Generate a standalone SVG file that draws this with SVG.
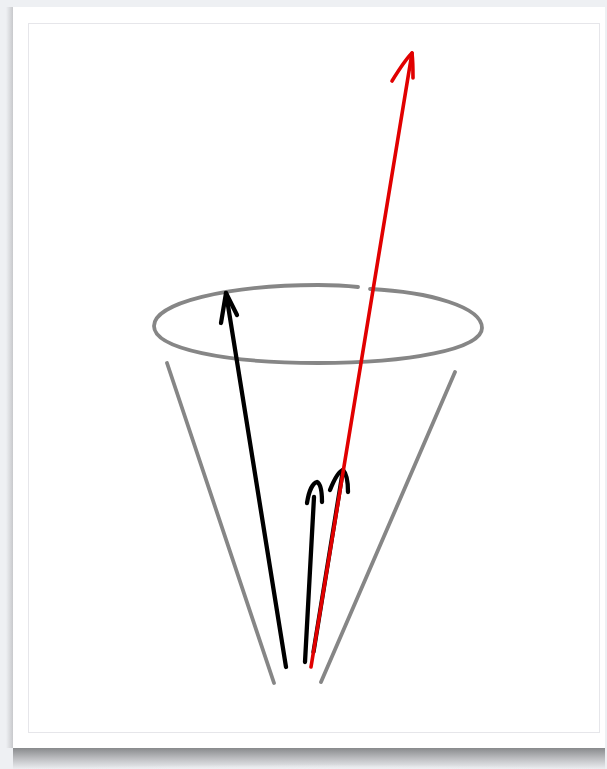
<svg xmlns="http://www.w3.org/2000/svg" width="607" height="769" viewBox="0 0 607 769">
<defs>
<linearGradient id="shadow" x1="0" y1="0" x2="0" y2="1">
<stop offset="0" stop-color="#888a8c"/>
<stop offset="0.5" stop-color="#bdbec1"/>
<stop offset="1" stop-color="#eceef1"/>
</linearGradient>
<linearGradient id="lshadow" x1="1" y1="0" x2="0" y2="0">
<stop offset="0" stop-color="#c8c9cc"/>
<stop offset="1" stop-color="#eef0f3"/>
</linearGradient>
<radialGradient id="curl" cx="0.5" cy="1.5" r="0.72">
<stop offset="0.65" stop-color="#eef0f3" stop-opacity="1"/>
<stop offset="1" stop-color="#eef0f3" stop-opacity="0"/>
</radialGradient>
</defs>
<style>
.gray{fill:none;stroke:#868686;stroke-width:3.8;stroke-linecap:round;stroke-linejoin:round}
.blk{fill:none;stroke:#000;stroke-width:4.3;stroke-linecap:round;stroke-linejoin:round}
.red{fill:none;stroke:#e10000;stroke-width:3.6;stroke-linecap:round;stroke-linejoin:round}
</style>
<g id="frame">
<rect x="0" y="0" width="607" height="769" fill="#eef0f3"/>
<rect x="6" y="7" width="7" height="741" fill="url(#lshadow)"/>
<rect x="13" y="748" width="592" height="21" fill="url(#shadow)"/>
<rect x="13" y="748" width="592" height="21" fill="url(#curl)"/>
<rect x="13" y="7" width="592" height="741" fill="#fff"/>
<rect x="28.5" y="23.5" width="571" height="709" fill="none" stroke="#e6e6ea" stroke-width="1"/>
</g>
<g id="cone">
<path class="gray" d="M358,287 C340,285 330,285 318,285 C227,285 154,303 154,326 C154,349 227,363 318,363 C409,363 482,349 482,328 C482,307 430,292 370,289"/>
<path class="gray" d="M167,363 L274,683"/>
<path class="gray" d="M455,372 L321,682"/>
</g>
<g id="connectors">
<g id="black-long">
<path class="blk" d="M286,667 L226,293"/>
<path class="blk" d="M221,323 L226,293 L237,315"/>
</g>
<g id="black-short1">
<path class="blk" d="M305,662 L314,497"/>
<path class="blk" d="M307,503 C309,490 313,483 317,482 C321,484 322,492 322,502"/>
</g>
<g id="black-short2">
<path class="blk" d="M313.5,652 L343,470"/>
<path class="blk" d="M330,490 C334,480 339,471 343,470 C347,474 348,482 348,492"/>
</g>
<g id="red-long">
<path class="red" d="M311,667 L412,53"/>
<path class="red" d="M392,81 C400,68 407,58 412,53 C413,62 413,70 413,78"/>
</g>
</g>
</svg>
